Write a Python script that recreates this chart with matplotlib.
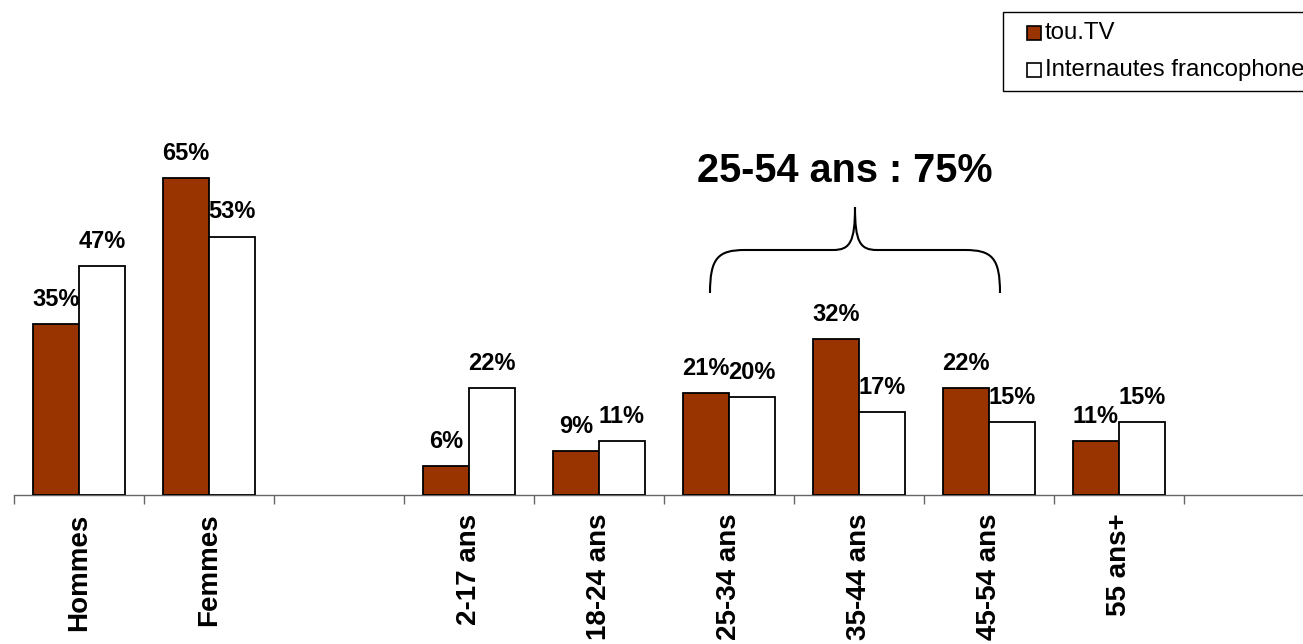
import matplotlib
matplotlib.use("Agg")
import matplotlib.pyplot as plt
import numpy as np
from matplotlib.path import Path
from matplotlib.patches import PathPatch, Rectangle

plt.rcParams['font.family'] = ['Liberation Sans', 'DejaVu Sans']

categories = ["Hommes", "Femmes", "", "2-17 ans", "18-24 ans", "25-34 ans",
              "35-44 ans", "45-54 ans", "55 ans+", ""]
toutv = [35, 65, None, 6, 9, 21, 32, 22, 11, None]
internautes = [47, 53, None, 22, 11, 20, 17, 15, 15, None]
series_names = ["tou.TV", "Internautes francophone"]
colors = ["#993300", "#FFFFFF"]
title_text = "25-54 ans : 75%"

W, H = 1303, 644
fig = plt.figure(figsize=(W / 100, H / 100), dpi=100)

def fx(px):
    return px / W

def fy(py):
    return 1 - py / H

base_px = 495
px_per_pct = 317 / 65.0
ax = fig.add_axes([fx(14), fy(base_px), 1300 / W, base_px / H])
ax.set_xlim(-0.5, len(categories) - 0.5)
ax.set_ylim(0, base_px / px_per_pct)

bw = 46 / 130.0
x = np.arange(len(categories))
for vals, col, off in [(toutv, colors[0], -0.5), (internautes, colors[1], 0.5)]:
    xs = [xi + off * bw for xi, v in zip(x, vals) if v is not None]
    hs = [v for v in vals if v is not None]
    ax.bar(xs, hs, width=bw, color=col, edgecolor="black", linewidth=1.3, zorder=3)
    for xi, h in zip(xs, hs):
        ax.annotate(f"{h}%", (xi, h), xytext=(0, 13), textcoords="offset points",
                    ha="center", va="baseline", fontsize=17, fontweight="bold")

for s in ["top", "left", "right"]:
    ax.spines[s].set_visible(False)
ax.spines["bottom"].set_color("#666666")
ax.spines["bottom"].set_linewidth(1.0)
ax.set_yticks([])
ax.set_xticks(x)
ax.set_xticklabels(categories, rotation=90, fontsize=20, fontweight="bold", va="top")
ax.set_xticks(np.arange(-0.5, len(categories), 1.0), minor=True)
ax.tick_params(axis="x", which="major", length=0, pad=13.5)
ax.tick_params(axis="x", which="minor", length=6.5, width=1.0, color="#666666", direction="out")
ax.patch.set_visible(False)

# Title annotation
fig.text(fx(845), fy(182), title_text, ha="center", va="baseline",
         fontsize=28.5, fontweight="bold")

# Brace
pts = [(710, 293), (710, 258), (718, 250), (745, 250),
       (833, 250), (850, 250), (855, 242), (855, 207),
       (855, 242), (860, 250), (877, 250),
       (965, 250), (992, 250), (1000, 258), (1000, 293)]
codes = [Path.MOVETO, Path.CURVE4, Path.CURVE4, Path.CURVE4,
         Path.LINETO, Path.CURVE4, Path.CURVE4, Path.CURVE4,
         Path.CURVE4, Path.CURVE4, Path.CURVE4,
         Path.LINETO, Path.CURVE4, Path.CURVE4, Path.CURVE4]
verts = [(fx(a), fy(b)) for a, b in pts]
fig.add_artist(PathPatch(Path(verts, codes), transform=fig.transFigure,
                         fill=False, edgecolor="black", linewidth=1.5))

# Legend (manual)
fig.add_artist(Rectangle((fx(1003), fy(91)), (1320 - 1003) / W, (91 - 12) / H,
                         transform=fig.transFigure, facecolor="white",
                         edgecolor="black", linewidth=1.0))
for i, (name, col) in enumerate(zip(series_names, colors)):
    cy = 33 + i * 37
    fig.add_artist(Rectangle((fx(1027), fy(cy + 7)), 14 / W, 14 / H,
                             transform=fig.transFigure, facecolor=col,
                             edgecolor="black", linewidth=1.2))
    fig.text(fx(1045), fy(cy + 6), name, ha="left", va="baseline", fontsize=17.3)

fig.savefig("out.png", dpi=100)
